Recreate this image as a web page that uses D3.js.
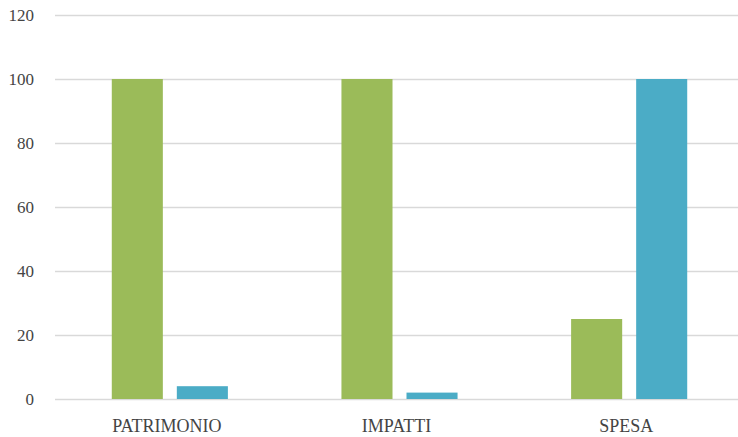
<!DOCTYPE html>
<html>
<head>
<meta charset="utf-8">
<script src="https://cdn.jsdelivr.net/npm/d3@7"></script>
<style>
  body { margin: 0; background: #fff; }
  svg { display: block; }
</style>
</head>
<body>
<div id="chart"></div>
<script>
const categories = ["PATRIMONIO", "IMPATTI", "SPESA"];
const seriesNames = ["green", "blue"];
const greenValues = [100, 100, 25];
const blueValues = [4, 2, 100];
const yTicks = [0, 20, 40, 60, 80, 100, 120];

const colors = { green: "#9bbb59", blue: "#4bacc6" };

const W = 738, H = 437;
const margin = { top: 15, right: -6, bottom: 38, left: 55 };

const svg = d3.select("#chart")
  .append("svg")
  .attr("width", W)
  .attr("height", H);

const y = d3.scaleLinear([0, 120], [H - margin.bottom, margin.top]);
const x0 = d3.scaleBand(categories, [margin.left, W - margin.right]).padding(0);
const x1 = d3.scaleBand(seriesNames, [0, x0.bandwidth()])
  .paddingInner(0.215)
  .paddingOuter(0.873);

// gridlines
svg.append("g")
  .selectAll("line")
  .data(yTicks)
  .join("line")
  .attr("x1", margin.left)
  .attr("x2", W)
  .attr("y1", (d) => Math.round(y(d)) + 0.5)
  .attr("y2", (d) => Math.round(y(d)) + 0.5)
  .attr("stroke", "#d9d9d9")
  .attr("stroke-width", 1.3);

// y tick labels
svg.append("g")
  .selectAll("text")
  .data(yTicks)
  .join("text")
  .attr("x", 34)
  .attr("y", (d) => y(d))
  .attr("dy", "0.35em")
  .attr("text-anchor", "end")
  .attr("font-family", "'Liberation Serif', 'DejaVu Serif', serif")
  .attr("font-size", 17)
  .attr("fill", "#444")
  .text((d) => d);

const rows = categories.map((c, i) => ({
  cat: c,
  vals: [
    { key: "green", v: greenValues[i] },
    { key: "blue", v: blueValues[i] },
  ],
}));

const groups = svg.append("g")
  .selectAll("g")
  .data(rows)
  .join("g")
  .attr("transform", (d) => `translate(${x0(d.cat)},0)`);

groups.selectAll("rect")
  .data((d) => d.vals)
  .join("rect")
  .attr("x", (d) => x1(d.key))
  .attr("width", x1.bandwidth())
  .attr("y", (d) => y(d.v))
  .attr("height", (d) => y(0) - y(d.v))
  .attr("fill", (d) => colors[d.key]);

// category labels
svg.append("g")
  .selectAll("text")
  .data(categories)
  .join("text")
  .attr("x", (d) => x0(d) + x0.bandwidth() / 2 - 3)
  .attr("y", 432)
  .attr("text-anchor", "middle")
  .attr("font-family", "'Liberation Serif', 'DejaVu Serif', serif")
  .attr("font-size", 18)
  .attr("fill", "#444")
  .text((d) => d);
</script>
</body>
</html>
